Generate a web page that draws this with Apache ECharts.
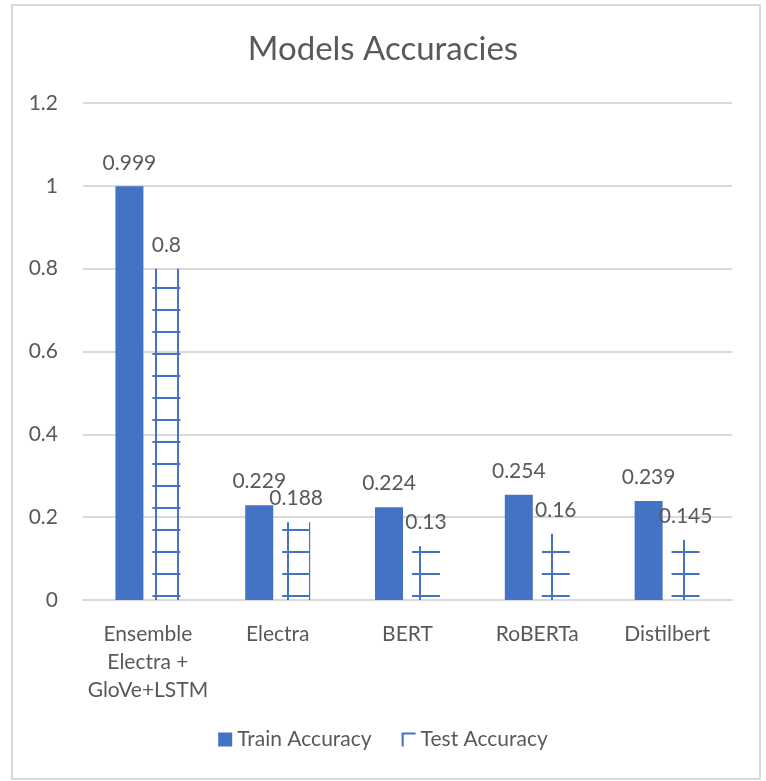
<!DOCTYPE html>
<html>
<head>
<meta charset="utf-8">
<script src="https://cdn.jsdelivr.net/npm/echarts@6/dist/echarts.min.js"></script>
<style>
  html, body { margin: 0; padding: 0; background: #fff; }
  #chart { width: 766px; height: 781px; }
</style>
</head>
<body>
<div id="chart"></div>
<script>
  // 数据
  let categories = ['Ensemble\nElectra +\nGloVe+LSTM', 'Electra', 'BERT', 'RoBERTa', 'Distilbert']
  let trainAcc = [0.999, 0.229, 0.224, 0.254, 0.239]
  let testAcc = [0.8, 0.188, 0.13, 0.16, 0.145]
  let yTicks = [0, 0.2, 0.4, 0.6, 0.8, 1, 1.2]

  let blue = '#4472C4'
  let grey = '#595959'
  let font = 'Lato, "Open Sans", sans-serif'
  let fs = 21

  // 梯子状的图案填充
  function makeLadder() {
    let c = document.createElement('canvas')
    c.width = 22
    c.height = 22
    let ctx = c.getContext('2d')
    ctx.fillStyle = blue
    ctx.fillRect(1, 0, 2, 22)
    ctx.fillRect(0, 1, 22, 2)
    return c
  }
  let ladder = { image: makeLadder(), repeat: 'repeat' }

  // 图例里的小角形图标
  let cornerIcon = 'path://M0,0 L10,0 L10,1.5 L1.5,1.5 L1.5,10 L0,10 Z'

  let chart = echarts.init(document.getElementById('chart'))

  let option = {
    backgroundColor: '#fff',
    animation: false,
    textStyle: { fontFamily: font },
    title: {
      text: 'Models Accuracies',
      left: 'center',
      top: 28,
      textStyle: { fontFamily: font, fontSize: 33, fontWeight: 'normal', color: grey }
    },
    graphic: [{
      type: 'rect',
      shape: { x: 12, y: 5, width: 748, height: 774 },
      style: { fill: 'none', stroke: '#d9d9d9', lineWidth: 2 },
      silent: true
    }],
    legend: {
      bottom: 26,
      left: 'center',
      itemGap: 30,
      itemWidth: 14,
      itemHeight: 14,
      textStyle: { fontFamily: font, fontSize: fs, color: grey },
      data: [
        { name: 'Train Accuracy', icon: 'rect' },
        { name: 'Test Accuracy', icon: cornerIcon, itemStyle: { color: blue } }
      ]
    },
    grid: { left: 83, right: 34, top: 103, bottom: 181 },
    xAxis: {
      type: 'category',
      data: categories,
      axisLine: { lineStyle: { color: '#d9d9d9', width: 2 } },
      axisTick: { show: false },
      axisLabel: { interval: 0, fontFamily: font, fontSize: fs, color: grey, lineHeight: 28, margin: 20 }
    },
    yAxis: {
      type: 'value',
      min: yTicks[0],
      max: yTicks[yTicks.length - 1],
      interval: 0.2,
      axisLine: { show: false },
      axisTick: { show: false },
      splitLine: { lineStyle: { color: '#d9d9d9', width: 2 } },
      axisLabel: {
        fontFamily: font, fontSize: fs, color: grey, margin: 25,
        formatter: function (v) { return String(Math.round(v * 10) / 10) }
      }
    },
    series: [
      {
        name: 'Train Accuracy',
        type: 'bar',
        barWidth: 28,
        barGap: '32%',
        itemStyle: { color: blue },
        label: { show: true, position: 'top', distance: 13, fontFamily: font, fontSize: fs, color: grey },
        data: trainAcc
      },
      {
        name: 'Test Accuracy',
        type: 'bar',
        barWidth: 28,
        itemStyle: { color: ladder },
        label: { show: true, position: 'top', distance: 13, fontFamily: font, fontSize: fs, color: grey },
        data: testAcc
      }
    ]
  }

  chart.setOption(option)
</script>
</body>
</html>
